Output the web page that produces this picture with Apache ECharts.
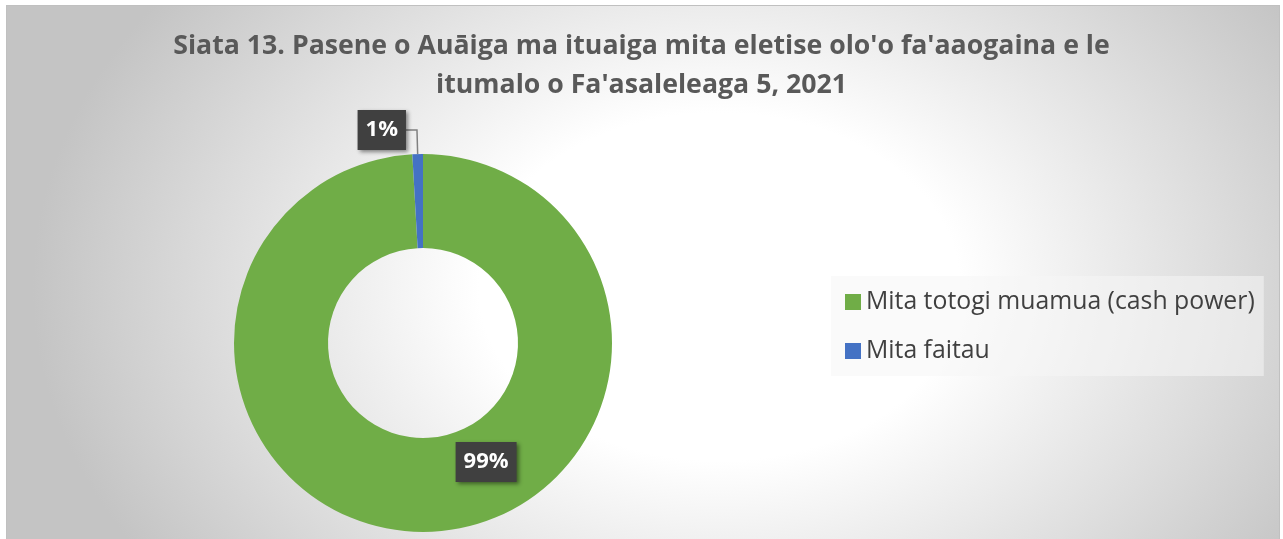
<!DOCTYPE html>
<html>
<head>
<meta charset="utf-8">
<script src="https://cdn.jsdelivr.net/npm/echarts@6/dist/echarts.min.js"></script>
<style>
  body { margin: 0; background: #fff; }
  #bg {
    position: absolute; left: 6px; top: 5px; width: 1272px; height: 540px;
    border: 1px solid #c0c0c0;
    background: radial-gradient(ellipse 54% 92% at 56% 52%, #ffffff 0%, #ffffff 35%, #c4c4c4 100%);
  }
  #main { position: absolute; left: 0; top: 0; width: 1283px; height: 539px; }
</style>
</head>
<body>
<div id="bg"></div>
<div id="main"></div>
<script>
// data
var titleText = "Siata 13. Pasene o Auāiga ma ituaiga mita eletise olo'o fa'aaogaina e le\nitumalo o Fa'asaleleaga 5, 2021";
var meterTypes = ['Mita totogi muamua (cash power)', 'Mita faitau'];
var meterShares = [99.1, 0.9];
var sliceColors = ['#70ad47', '#4472c4'];

var chart = echarts.init(document.getElementById('main'));

var labelBox = {
  color: '#fff',
  fontFamily: 'Open Sans',
  fontWeight: 'bold',
  fontSize: 22,
  lineHeight: 24,
  backgroundColor: '#404040',
  padding: [8, 8, 8, 8],
  shadowBlur: 4,
  shadowOffsetX: 2,
  shadowOffsetY: 2,
  shadowColor: 'rgba(0,0,0,0.45)'
};

var pieData = meterTypes.map(function (name, i) {
  var d = { name: name, value: meterShares[i], itemStyle: { color: sliceColors[i] } };
  if (i === 0) d.label = Object.assign({ position: 'inside' }, labelBox);
  return d;
});

chart.setOption({
  animation: false,
  backgroundColor: 'transparent',
  title: {
    text: titleText,
    left: 'center',
    top: 27,
    padding: 0,
    textStyle: {
      fontFamily: 'Open Sans',
      fontWeight: 'bold',
      fontSize: 26.7,
      lineHeight: 39,
      color: '#595959'
    }
  },
  legend: {
    orient: 'vertical',
    left: 831,
    top: 276,
    backgroundColor: 'rgba(245,245,245,0.55)',
    padding: [13, 9, 12, 14],
    itemWidth: 16,
    itemHeight: 16,
    itemGap: 23,
    icon: 'rect',
    selectedMode: false,
    textStyle: {
      fontFamily: 'Open Sans',
      fontSize: 24.8,
      lineHeight: 26,
      color: '#404040'
    },
    data: meterTypes
  },
  series: [{
    type: 'pie',
    center: [423, 343],
    radius: [95, 189],
    startAngle: 90,
    clockwise: true,
    avoidLabelOverlap: false,
    emphasis: { disabled: true },
    label: Object.assign({
      show: true,
      position: 'outside',
      distanceToLabelLine: 0,
      formatter: function (p) { return Math.round(p.percent) + '%'; }
    }, labelBox),
    labelLine: {
      show: true,
      length: 24,
      length2: 11,
      smooth: false,
      lineStyle: { color: '#808080', width: 1.5 }
    },
    labelLayout: function (p) {
      if (p.dataIndex === 0) return { dx: 59, dy: -26 };
      return {};
    },
    data: pieData
  }]
});
</script>
</body>
</html>
